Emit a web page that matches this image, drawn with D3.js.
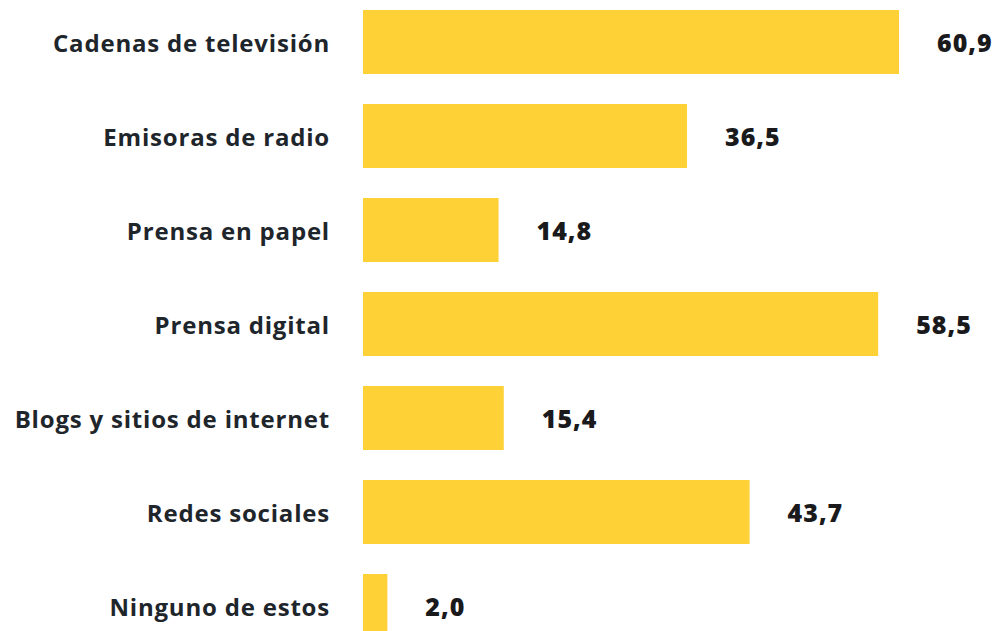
<!DOCTYPE html>
<html>
<head>
<meta charset="utf-8">
<script src="https://cdn.jsdelivr.net/npm/d3@7"></script>
<style>
	html, body { margin: 0; padding: 0; background: #fff; }
	svg { display: block; }
	.label { font-family: "Open Sans", sans-serif; font-weight: 700; font-size: 24px; letter-spacing: 0.8px; fill: #1e252b; }
	.value { font-family: "Open Sans", sans-serif; font-weight: 800; font-size: 25px; letter-spacing: 1px; fill: #1a1a1c; }
</style>
</head>
<body>
<div id="chart"></div>
<script>
var categories = ['Cadenas de televisión', 'Emisoras de radio', 'Prensa en papel', 'Prensa digital', 'Blogs y sitios de internet', 'Redes sociales', 'Ninguno de estos'];
var values = [60.9, 36.5, 14.8, 58.5, 15.4, 43.7, 2.0];
var valueLabels = ['60,9', '36,5', '14,8', '58,5', '15,4', '43,7', '2,0'];

// bar chart init
function initBarChart() {
	var width = 998;
	var height = 631;
	var barColor = '#fed136';
	var barStart = 363;

	var svg = d3.select('#chart')
		.append('svg')
		.attr('width', width)
		.attr('height', height);

	// bars keep a small stub past the axis line
	var xScale = d3.scaleLinear()
		.domain([0, 60.9])
		.range([370, 899]);

	var yScale = d3.scaleBand()
		.domain(categories)
		.range([10, 638])
		.paddingInner(30 / 94)
		.paddingOuter(0);

	var rows = svg.selectAll('.row')
		.data(categories)
		.enter()
		.append('g')
		.attr('class', 'row');

	rows.append('rect')
		.attr('class', 'bar')
		.attr('fill', barColor)
		.attr('x', barStart)
		.attr('y', function(d) {
			return yScale(d);
		})
		.attr('width', function(d, i) {
			return xScale(values[i]) - barStart;
		})
		.attr('height', yScale.bandwidth());

	rows.append('text')
		.attr('class', 'label')
		.attr('text-anchor', 'end')
		.attr('dominant-baseline', 'central')
		.attr('x', 330)
		.attr('y', function(d) {
			return yScale(d) + yScale.bandwidth() / 2;
		})
		.text(function(d) {
			return d;
		});

	rows.append('text')
		.attr('class', 'value')
		.attr('dominant-baseline', 'central')
		.attr('x', function(d, i) {
			return xScale(values[i]) + 38;
		})
		.attr('y', function(d) {
			return yScale(d) + yScale.bandwidth() / 2;
		})
		.text(function(d, i) {
			return valueLabels[i];
		});
}

initBarChart();
</script>
</body>
</html>
